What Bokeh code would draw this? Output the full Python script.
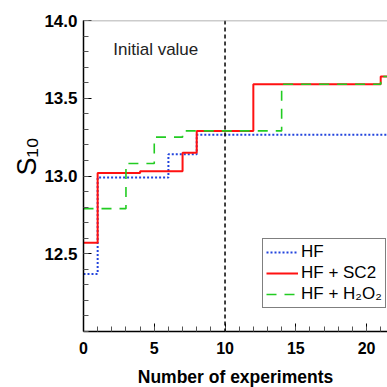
from bokeh.plotting import figure
from bokeh.models import Span, Label, Legend, LegendItem, FixedTicker, Title
from bokeh.embed import file_html
from bokeh.resources import INLINE

# ---- data ----
hf_x = [0, 1, 6, 8, 22]
hf_y = [12.37, 12.99, 13.14, 13.265, 13.265]
sc2_x = [0, 1, 4, 7, 8, 12, 21, 22]
sc2_y = [12.57, 13.02, 13.03, 13.15, 13.29, 13.59, 13.64, 13.64]
h2o2_x = [0, 3, 5, 7, 14, 21, 22]
h2o2_y = [12.79, 13.08, 13.25, 13.29, 13.59, 13.64, 13.64]
initial_x = 10
x_ticks = [0, 5, 10, 15, 20]
y_ticks = [12.5, 13.0, 13.5, 14.0]
y_tick_labels = ["12.5", "13.0", "13.5", "14.0"]
series_names = ["HF", "HF + SC2", "HF + H\u2082O\u2082"]
y_label = "S\u2081\u2080"

FONT = "Liberation Sans"

p = figure(frame_width=304, frame_height=311, x_range=(0, 21.48), y_range=(12.0, 14.0),
           output_backend="svg", toolbar_location=None,
           min_border_left=83, min_border_right=0, min_border_top=20, min_border_bottom=56)
p.outline_line_color = None
p.grid.visible = False
p.background_fill_color = "white"

r_hf = p.step(hf_x, hf_y, mode="after", line_color="#2244dd", line_width=2, line_dash="2 2")
r_sc2 = p.step(sc2_x, sc2_y, mode="after", line_color="#ff1111", line_width=2)
r_h2o2 = p.step(h2o2_x, h2o2_y, mode="after", line_color="#22cc22", line_width=1.6, line_dash="10 8")

p.add_layout(Span(location=initial_x, dimension="height", line_color="black", line_width=1.5, line_dash="4 3"))
p.add_layout(Span(location=14.0, dimension="width", line_color="#999999", line_width=1.5))

p.add_layout(Label(x=2.1, y=13.813, text="Initial value", text_font=FONT, text_font_size="17px",
                   text_color="#222222", text_baseline="alphabetic"))

# axes
for ax in (p.xaxis[0], p.yaxis[0]):
    ax.axis_line_color = "black"
    ax.axis_line_width = 1.5
    ax.major_tick_line_color = "black"
    ax.minor_tick_line_color = "#555555"
    ax.major_tick_out = 0
    ax.minor_tick_out = 0
    ax.major_tick_in = 8
    ax.minor_tick_in = 5
    ax.major_label_text_font = FONT
    ax.major_label_text_font_style = "bold"
    ax.major_label_text_color = "black"

p.xaxis.major_label_text_font_size = "16px"
p.yaxis.major_label_text_font_size = "17px"

p.xaxis.ticker = FixedTicker(ticks=x_ticks, minor_ticks=list(range(0, 22)))
p.xaxis.major_label_standoff = 10
p.xaxis.axis_label = "Number of experiments"
p.xaxis.axis_label_text_font = FONT
p.xaxis.axis_label_text_font_style = "bold"
p.xaxis.axis_label_text_font_size = "17.5px"
p.xaxis.axis_label_text_color = "black"
p.xaxis.axis_label_standoff = 10

p.yaxis.ticker = FixedTicker(ticks=y_ticks, minor_ticks=[round(12.0 + 0.1 * i, 1) for i in range(21)])
p.yaxis.major_label_overrides = {t: l for t, l in zip(y_ticks, y_tick_labels)}
p.yaxis.major_label_standoff = 6

# y label as a left-side title
p.add_layout(Title(text=y_label, align="left", offset=156, text_font=FONT, text_font_size="27px",
                   text_font_style="normal", text_color="black", standoff=0), "left")

legend = Legend(items=[LegendItem(label=n, renderers=[r]) for n, r in zip(series_names, [r_hf, r_sc2, r_h2o2])],
                location=(179, 23), label_text_font=FONT, label_text_font_size="17px",
                label_text_color="black",
                glyph_width=32, glyph_height=20, label_height=20, label_standoff=3,
                padding=3, spacing=1, margin=0, border_line_color="black", border_line_width=1.2,
                background_fill_alpha=1)
p.add_layout(legend)

open("out.html", "w").write(file_html(p, INLINE))
